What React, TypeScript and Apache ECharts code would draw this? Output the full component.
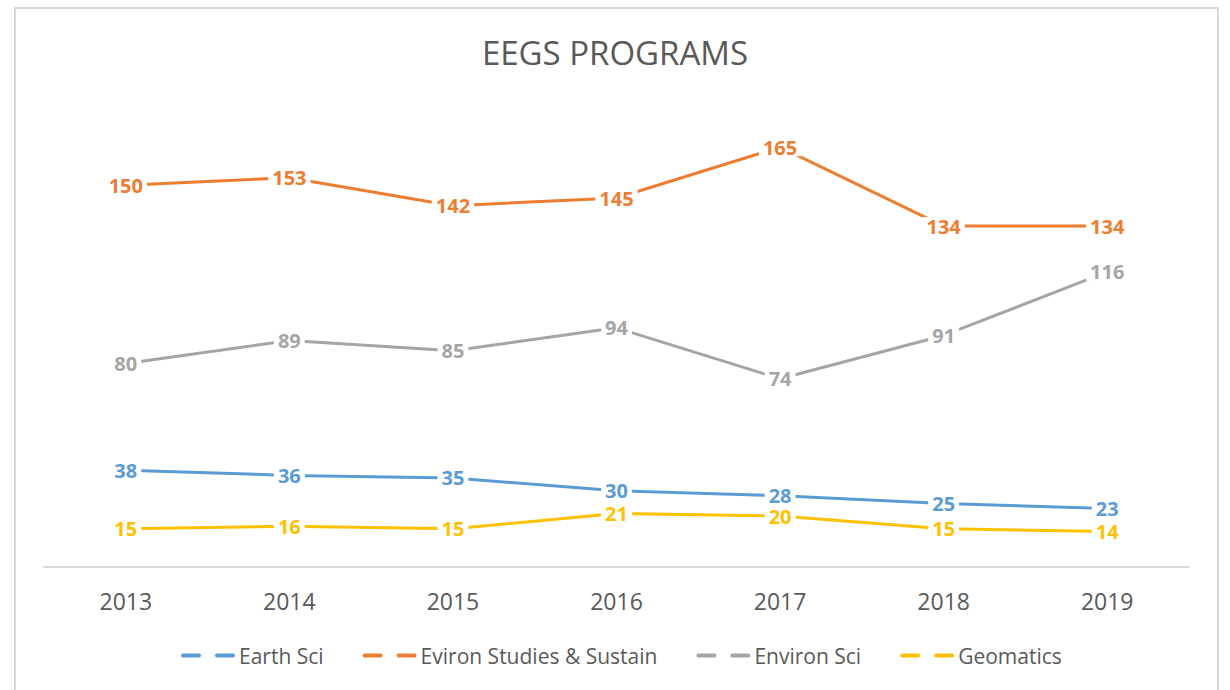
import React, { useEffect, useRef } from "react";
import * as echarts from "echarts";

const years = ["2013", "2014", "2015", "2016", "2017", "2018", "2019"];
const earthSci = [38, 36, 35, 30, 28, 25, 23];
const evironStudies = [150, 153, 142, 145, 165, 134, 134];
const environSci = [80, 89, 85, 94, 74, 91, 116];
const geomatics = [15, 16, 15, 21, 20, 15, 14];

const seriesDefs = [
  { name: "Earth Sci", data: earthSci, color: "#5B9BD5" },
  { name: "Eviron Studies & Sustain", data: evironStudies, color: "#ED7D31" },
  { name: "Environ Sci", data: environSci, color: "#A5A5A5" },
  { name: "Geomatics", data: geomatics, color: "#FFC000" },
];

const FONT = "'Open Sans', sans-serif";

export default function App() {
  const ref = useRef<HTMLDivElement>(null);
  useEffect(() => {
    if (!ref.current) return;
    const chart = echarts.init(ref.current, undefined, { renderer: "svg" });
    chart.setOption({
      animation: false,
      backgroundColor: "#ffffff",
      title: {
        text: "EEGS PROGRAMS",
        left: "center",
        top: 31,
        textStyle: { fontFamily: FONT, fontSize: 33, fontWeight: "normal", color: "#595959" },
      },
      graphic: [
        {
          type: "rect",
          shape: { x: 15, y: 8, width: 1203, height: 720 },
          style: { fill: "none", stroke: "#d9d9d9", lineWidth: 2 },
          silent: true,
          z: -1,
        },
      ],
      legend: {
        left: 176,
        top: 640,
        itemWidth: 56,
        itemHeight: 4,
        itemGap: 39,
        icon: "path://M2,0h16a2,2 0 0 1 0,4h-16a2,2 0 0 1 0,-4z M36,0h16a2,2 0 0 1 0,4h-16a2,2 0 0 1 0,-4z",
        textStyle: { fontFamily: FONT, fontSize: 21, color: "#595959", padding: [0, 0, 0, -2] },
        data: seriesDefs.map((s) => ({
          name: s.name,
          itemStyle: { color: s.color, borderWidth: 0, opacity: 1 },
        })),
      },
      grid: { left: 44, width: 1145, top: 109, height: 458 },
      xAxis: {
        type: "category",
        data: years,
        boundaryGap: true,
        axisLine: { lineStyle: { color: "#d9d9d9", width: 2 } },
        axisTick: { show: false },
        axisLabel: { fontFamily: FONT, fontSize: 23, color: "#595959", margin: 22 },
      },
      yAxis: {
        type: "value",
        min: 0,
        max: 180,
        interval: 20,
        show: false,
        splitLine: { show: false },
      },
      series: seriesDefs.map((s) => ({
        name: s.name,
        type: "line",
        data: s.data,
        color: s.color,
        symbol: "circle",
        symbolSize: 1,
        showSymbol: true,
        itemStyle: { color: "rgba(0,0,0,0)", borderWidth: 0 },
        lineStyle: { color: s.color, width: 3 },
        label: {
          show: true,
          position: "inside",
          fontFamily: FONT,
          fontSize: 20,
          lineHeight: 18,
          fontWeight: "bold",
          color: s.color,
          backgroundColor: "#ffffff",
          padding: [0, 4],
        },
      })),
    });
    return () => chart.dispose();
  }, []);
  return (
    <div
      ref={ref}
      style={{ position: "fixed", left: 0, top: 0, width: 1230, height: 690 }}
    />
  );
}
